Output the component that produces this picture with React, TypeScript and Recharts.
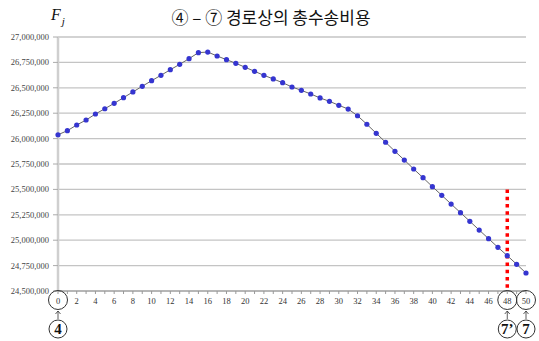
import React from 'react';
import { LineChart, Line, XAxis, YAxis, CartesianGrid, ReferenceLine } from 'recharts';

const steps = [0,1,2,3,4,5,6,7,8,9,10,11,12,13,14,15,16,17,18,19,20,21,22,23,24,25,26,27,28,29,30,31,32,33,34,35,36,37,38,39,40,41,42,43,44,45,46,47,48,49,50];
const costs = [
  26038000, 26078000, 26134000, 26183000, 26242000, 26294000, 26347000, 26403000, 26459000, 26515000,
  26570000, 26623000, 26678000, 26731000, 26787000, 26846000, 26852000, 26813000, 26777000, 26741000,
  26702000, 26662000, 26623000, 26587000, 26550000, 26508000, 26475000, 26439000, 26400000, 26367000,
  26328000, 26291000, 26225000, 26141000, 26052000, 25964000, 25875000, 25789000, 25701000, 25615000,
  25527000, 25442000, 25356000, 25271000, 25186000, 25100000, 25015000, 24930000, 24848000, 24763000,
  24677000,
];
const yTicks = [24500000, 24750000, 25000000, 25250000, 25500000, 25750000, 26000000, 26250000, 26500000, 26750000, 27000000];
const xTicks = steps;
const circledTicks = [0, 48, 50];
const nodeLabels: Record<number, string> = { 0: '4', 48: '7’', 50: '7' };
const splitStep = 48;
const splitTop = 25500000;
const title = '④ – ⑦ 경로상의 총수송비용';

const data = steps.map((s, i) => ({ step: s, cost: costs[i] }));

const serif = '"Liberation Serif", "DejaVu Serif", serif';

const XTick = (props: any) => {
  const { x, y, payload } = props;
  const v = payload.value as number;
  const showLabel = v % 2 === 0;
  const circled = circledTicks.includes(v);
  return (
    <g>
      {showLabel && (
        <text x={x} y={y + 7.5} textAnchor="middle" fontSize={8.5} fontFamily={serif} fill="#333">
          {v}
        </text>
      )}
      {circled && (
        <g>
          <circle cx={x} cy={y + 4} r={9.5} fill="none" stroke="#333" strokeWidth={1} />
          <line x1={x} y1={y + 23} x2={x} y2={y + 15} stroke="#333" strokeWidth={0.8} />
          <path d={`M ${x - 2.5} ${y + 18} L ${x} ${y + 15} L ${x + 2.5} ${y + 18}`} fill="none" stroke="#333" strokeWidth={0.8} />
          <circle cx={x} cy={y + 33} r={9} fill="#fff" stroke="#333" strokeWidth={1} />
          <text x={x} y={y + 38} textAnchor="middle" fontSize={15} fontWeight="bold" fontFamily={serif} fill="#111">
            {nodeLabels[v]}
          </text>
        </g>
      )}
    </g>
  );
};

const fmt = (v: number) => v.toLocaleString('en-US');

export default function App() {
  return (
    <div style={{ position: 'absolute', left: 0, top: 0, width: 539, height: 341, background: '#fff' }}>
      <div
        style={{
          position: 'absolute', left: 0, top: 7, width: 542, textAlign: 'center',
          fontFamily: '"Noto Sans CJK KR", serif', fontSize: 17, lineHeight: '20px', color: '#111',
        }}
      >
        {title}
      </div>
      <div style={{ position: 'absolute', left: 51, top: 6, fontFamily: serif, fontStyle: 'italic', fontSize: 16, color: '#111' }}>
        F<span style={{ fontSize: 11, position: 'relative', top: 5, left: 1 }}>j</span>
      </div>
      <LineChart width={539} height={341} data={data} margin={{ top: 37, right: 13, bottom: 0, left: 0 }}>
        <CartesianGrid vertical={false} stroke="#c4c4c4" strokeWidth={1.3} />
        <XAxis
          dataKey="step"
          type="number"
          domain={[0, 50]}
          ticks={xTicks}
          interval={0}
          tick={<XTick />}
          tickSize={3}
          tickMargin={2}
          axisLine={{ stroke: '#999', strokeWidth: 1 }}
          tickLine={{ stroke: '#999' }}
          height={50}
        />
        <YAxis
          type="number"
          domain={[24500000, 27000000]}
          ticks={yTicks}
          interval={0}
          tickFormatter={fmt}
          width={58}
          tickSize={5}
          tickMargin={4}
          tick={{ fontSize: 8.5, fontFamily: serif, fill: '#444' }}
          axisLine={{ stroke: '#cfcfcf', strokeWidth: 2.5 }}
          tickLine={{ stroke: '#aaa' }}
        />
        <ReferenceLine
          segment={[{ x: splitStep, y: splitTop }, { x: splitStep, y: yTicks[0] }]}
          stroke="#ff0000"
          strokeWidth={3.5}
          strokeDasharray="3.5 3.8"
        />
        <Line
          type="linear"
          dataKey="cost"
          stroke="#666"
          strokeWidth={1}
          dot={{ r: 2.6, fill: '#3535d0', stroke: 'none' }}
          isAnimationActive={false}
        />
      </LineChart>
    </div>
  );
}
